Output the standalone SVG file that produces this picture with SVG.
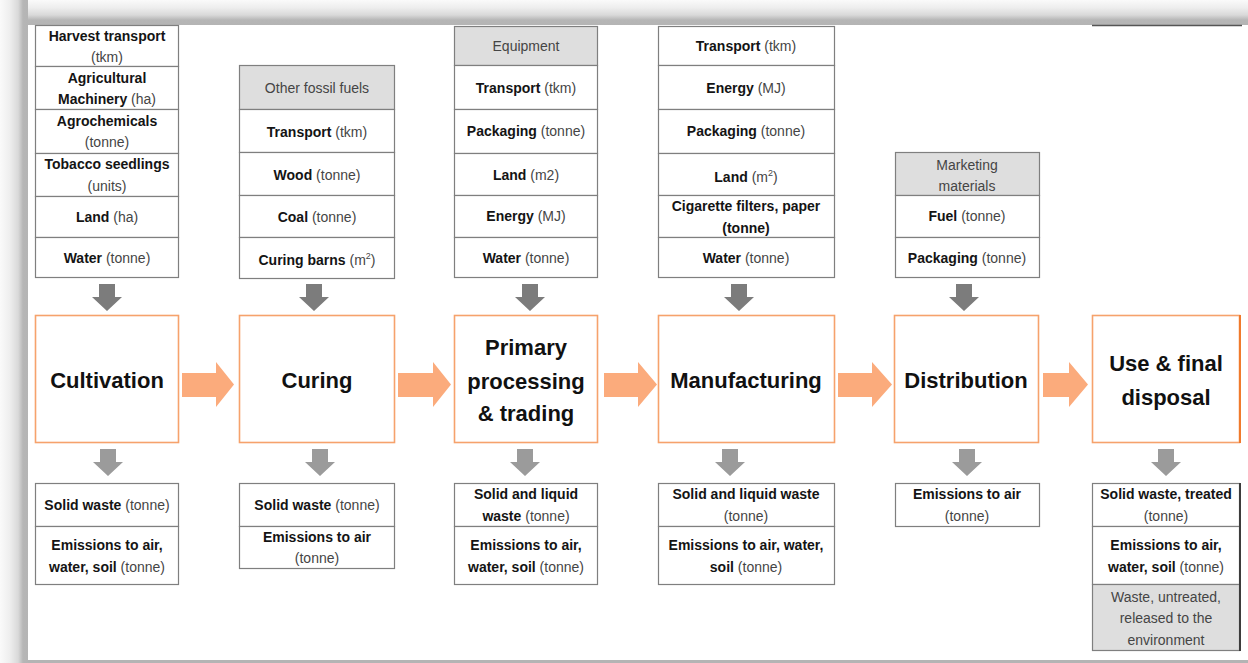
<svg xmlns="http://www.w3.org/2000/svg" width="1248" height="663" viewBox="0 0 1248 663">
<defs>
<linearGradient id="gTop" x1="0" y1="0" x2="0" y2="1">
<stop offset="0" stop-color="#fafafa"/><stop offset="0.3" stop-color="#eeeeee"/><stop offset="0.6" stop-color="#d9d9d9"/><stop offset="0.8" stop-color="#b6b6b6"/><stop offset="1" stop-color="#b4b4b4"/>
</linearGradient>
<linearGradient id="gLeft" x1="0" y1="0" x2="1" y2="0">
<stop offset="0" stop-color="#fafafa"/><stop offset="0.35" stop-color="#eeeeee"/><stop offset="0.65" stop-color="#d9d9d9"/><stop offset="0.82" stop-color="#b6b6b6"/><stop offset="1" stop-color="#b4b4b4"/>
</linearGradient>
<style>
.cell{fill:#ffffff;stroke:#7f7f7f;stroke-width:1.2}
.hdr{fill:#dedede;stroke:#7f7f7f;stroke-width:1.2}
.proc{fill:#ffffff;stroke:#f6a26c;stroke-width:1.6}
.t{font-family:"Liberation Sans",Arial,sans-serif;font-size:14px;text-anchor:middle;fill:#454545}
.b{font-weight:bold;fill:#141414}
.p{font-family:"Liberation Sans",Arial,sans-serif;font-size:22px;font-weight:bold;text-anchor:middle;fill:#111111}
.oa{fill:#fbab7c}
.ga{fill:#7c7c7c}
.gb{fill:#9b9b9b}
</style>
</defs>
<rect width="1248" height="663" fill="#ffffff"/>
<rect x="0" y="0" width="1248" height="25" fill="url(#gTop)"/>
<rect x="0" y="0" width="28" height="663" fill="url(#gLeft)"/>
<rect x="28" y="25" width="1220" height="635" fill="#ffffff"/>
<rect x="28" y="660" width="1220" height="3" fill="#b4b4b4"/>
<line x1="1092" y1="25.5" x2="1242" y2="25.5" stroke="#555555" stroke-width="1.5"/>

<!-- Input tables -->
<g id="in-cultivation">
<rect class="cell" x="35.5" y="25.5" width="143" height="41"/>
<rect class="cell" x="35.5" y="66.5" width="143" height="43"/>
<rect class="cell" x="35.5" y="109.5" width="143" height="44"/>
<rect class="cell" x="35.5" y="153.5" width="143" height="43"/>
<rect class="cell" x="35.5" y="196.5" width="143" height="41"/>
<rect class="cell" x="35.5" y="237.5" width="143" height="40"/>
<text class="t" x="107" y="41"><tspan class="b">Harvest transport</tspan></text>
<text class="t" x="107" y="62">(tkm)</text>
<text class="t" x="107" y="83"><tspan class="b">Agricultural</tspan></text>
<text class="t" x="107" y="104"><tspan class="b">Machinery</tspan> (ha)</text>
<text class="t" x="107" y="126"><tspan class="b">Agrochemicals</tspan></text>
<text class="t" x="107" y="147">(tonne)</text>
<text class="t" x="107" y="169"><tspan class="b">Tobacco seedlings</tspan></text>
<text class="t" x="107" y="191">(units)</text>
<text class="t" x="107" y="222"><tspan class="b">Land</tspan> (ha)</text>
<text class="t" x="107" y="263"><tspan class="b">Water</tspan> (tonne)</text>
</g>

<g id="in-curing">
<rect class="hdr" x="239.5" y="65.5" width="155" height="44"/>
<rect class="cell" x="239.5" y="109.5" width="155" height="43"/>
<rect class="cell" x="239.5" y="152.5" width="155" height="43"/>
<rect class="cell" x="239.5" y="195.5" width="155" height="42"/>
<rect class="cell" x="239.5" y="237.5" width="155" height="41"/>
<text class="t" x="317" y="93">Other fossil fuels</text>
<text class="t" x="317" y="137"><tspan class="b">Transport</tspan> (tkm)</text>
<text class="t" x="317" y="180"><tspan class="b">Wood</tspan> (tonne)</text>
<text class="t" x="317" y="222"><tspan class="b">Coal</tspan> (tonne)</text>
<text class="t" x="317" y="265"><tspan class="b">Curing barns</tspan> (m<tspan font-size="9" dy="-6">2</tspan><tspan dy="6">)</tspan></text>
</g>

<g id="in-primary">
<rect class="hdr" x="454.5" y="26.5" width="143" height="39"/>
<rect class="cell" x="454.5" y="65.5" width="143" height="44"/>
<rect class="cell" x="454.5" y="109.5" width="143" height="44"/>
<rect class="cell" x="454.5" y="153.5" width="143" height="42"/>
<rect class="cell" x="454.5" y="195.5" width="143" height="42"/>
<rect class="cell" x="454.5" y="237.5" width="143" height="40"/>
<text class="t" x="526" y="51">Equipment</text>
<text class="t" x="526" y="93"><tspan class="b">Transport</tspan> (tkm)</text>
<text class="t" x="526" y="136"><tspan class="b">Packaging</tspan> (tonne)</text>
<text class="t" x="526" y="180"><tspan class="b">Land</tspan> (m2)</text>
<text class="t" x="526" y="221"><tspan class="b">Energy</tspan> (MJ)</text>
<text class="t" x="526" y="263"><tspan class="b">Water</tspan> (tonne)</text>
</g>

<g id="in-manufacturing">
<rect class="cell" x="658.5" y="26.5" width="176" height="39"/>
<rect class="cell" x="658.5" y="65.5" width="176" height="44"/>
<rect class="cell" x="658.5" y="109.5" width="176" height="44"/>
<rect class="cell" x="658.5" y="153.5" width="176" height="42"/>
<rect class="cell" x="658.5" y="195.5" width="176" height="42"/>
<rect class="cell" x="658.5" y="237.5" width="176" height="40"/>
<text class="t" x="746" y="51"><tspan class="b">Transport</tspan> (tkm)</text>
<text class="t" x="746" y="93"><tspan class="b">Energy</tspan> (MJ)</text>
<text class="t" x="746" y="136"><tspan class="b">Packaging</tspan> (tonne)</text>
<text class="t" x="746" y="182"><tspan class="b">Land</tspan> (m<tspan font-size="9" dy="-6">2</tspan><tspan dy="6">)</tspan></text>
<text class="t" x="746" y="211"><tspan class="b">Cigarette filters, paper</tspan></text>
<text class="t" x="746" y="233"><tspan class="b">(tonne)</tspan></text>
<text class="t" x="746" y="263"><tspan class="b">Water</tspan> (tonne)</text>
</g>

<g id="in-distribution">
<rect class="hdr" x="895.5" y="152.5" width="144" height="43"/>
<rect class="cell" x="895.5" y="195.5" width="144" height="42"/>
<rect class="cell" x="895.5" y="237.5" width="144" height="40"/>
<text class="t" x="967" y="170">Marketing</text>
<text class="t" x="967" y="191">materials</text>
<text class="t" x="967" y="221"><tspan class="b">Fuel</tspan> (tonne)</text>
<text class="t" x="967" y="263"><tspan class="b">Packaging</tspan> (tonne)</text>
</g>

<!-- Process nodes -->
<g id="cultivation">
<rect class="proc" x="35.5" y="315.5" width="143" height="127"/>
<text class="p" x="107" y="388">Cultivation</text>
</g>
<g id="curing">
<rect class="proc" x="239.5" y="315.5" width="155" height="127"/>
<text class="p" x="317" y="388">Curing</text>
</g>
<g id="primary">
<rect class="proc" x="454.5" y="315.5" width="143" height="127"/>
<text class="p" x="526" y="355">Primary</text>
<text class="p" x="526" y="389">processing</text>
<text class="p" x="526" y="421">&amp; trading</text>
</g>
<g id="manufacturing">
<rect class="proc" x="658.5" y="315.5" width="176" height="127"/>
<text class="p" x="746" y="388">Manufacturing</text>
</g>
<g id="distribution">
<rect class="proc" x="894.5" y="315.5" width="144" height="127"/>
<text class="p" x="966" y="388">Distribution</text>
</g>
<g id="use">
<rect class="proc" x="1092.5" y="315.5" width="147" height="127"/>
<line x1="1240" y1="315" x2="1240" y2="443" stroke="#f07a2c" stroke-width="2"/>
<text class="p" x="1166" y="371">Use &amp; final</text>
<text class="p" x="1166" y="405">disposal</text>
</g>

<!-- Output tables -->
<g id="out-cultivation">
<rect class="cell" x="35.5" y="483.5" width="143" height="43"/>
<rect class="cell" x="35.5" y="526.5" width="143" height="58"/>
<text class="t" x="107" y="510"><tspan class="b">Solid waste</tspan> (tonne)</text>
<text class="t" x="107" y="550"><tspan class="b">Emissions to air,</tspan></text>
<text class="t" x="107" y="572"><tspan class="b">water, soil</tspan> (tonne)</text>
</g>
<g id="out-curing">
<rect class="cell" x="239.5" y="483.5" width="155" height="43"/>
<rect class="cell" x="239.5" y="526.5" width="155" height="42"/>
<text class="t" x="317" y="510"><tspan class="b">Solid waste</tspan> (tonne)</text>
<text class="t" x="317" y="542"><tspan class="b">Emissions to air</tspan></text>
<text class="t" x="317" y="563">(tonne)</text>
</g>
<g id="out-primary">
<rect class="cell" x="454.5" y="483.5" width="143" height="43"/>
<rect class="cell" x="454.5" y="526.5" width="143" height="58"/>
<text class="t" x="526" y="499"><tspan class="b">Solid and liquid</tspan></text>
<text class="t" x="526" y="521"><tspan class="b">waste</tspan> (tonne)</text>
<text class="t" x="526" y="550"><tspan class="b">Emissions to air,</tspan></text>
<text class="t" x="526" y="572"><tspan class="b">water, soil</tspan> (tonne)</text>
</g>
<g id="out-manufacturing">
<rect class="cell" x="658.5" y="483.5" width="176" height="43"/>
<rect class="cell" x="658.5" y="526.5" width="176" height="58"/>
<text class="t" x="746" y="499"><tspan class="b">Solid and liquid waste</tspan></text>
<text class="t" x="746" y="521">(tonne)</text>
<text class="t" x="746" y="550"><tspan class="b">Emissions to air, water,</tspan></text>
<text class="t" x="746" y="572"><tspan class="b">soil</tspan> (tonne)</text>
</g>
<g id="out-distribution">
<rect class="cell" x="895.5" y="483.5" width="144" height="43"/>
<text class="t" x="967" y="499"><tspan class="b">Emissions to air</tspan></text>
<text class="t" x="967" y="521">(tonne)</text>
</g>
<g id="out-use">
<rect class="cell" x="1092.5" y="483.5" width="147" height="43"/>
<rect class="cell" x="1092.5" y="526.5" width="147" height="58"/>
<rect class="hdr" x="1092.5" y="584.5" width="147" height="66"/>
<line x1="1240" y1="483" x2="1240" y2="651" stroke="#3c3c3c" stroke-width="2"/>
<text class="t" x="1166" y="499"><tspan class="b">Solid waste, treated</tspan></text>
<text class="t" x="1166" y="521">(tonne)</text>
<text class="t" x="1166" y="550"><tspan class="b">Emissions to air,</tspan></text>
<text class="t" x="1166" y="572"><tspan class="b">water, soil</tspan> (tonne)</text>
<text class="t" x="1166" y="602">Waste, untreated,</text>
<text class="t" x="1166" y="623">released to the</text>
<text class="t" x="1166" y="645">environment</text>
</g>

<!-- Connectors -->
<g id="connectors">
<path class="oa" d="M182,373 H216 V362 L234,384.5 L216,407 V397 H182 Z"/>
<path class="oa" d="M398,373 H433 V362 L451,384.5 L433,407 V397 H398 Z"/>
<path class="oa" d="M604,373 H638 V362 L657,384.5 L638,407 V397 H604 Z"/>
<path class="oa" d="M838,373 H872 V362 L892,384.5 L872,407 V397 H838 Z"/>
<path class="oa" d="M1043,373 H1069 V362 L1088,384.5 L1069,407 V397 H1043 Z"/>
<path class="ga" d="M99,284 H115 V297 H122 L107,311 L92,297 H99 Z"/>
<path class="ga" d="M306,284 H322 V297 H329 L314,311 L299,297 H306 Z"/>
<path class="ga" d="M522,284 H538 V297 H545 L530,311 L515,297 H522 Z"/>
<path class="ga" d="M731,284 H747 V297 H754 L739,311 L724,297 H731 Z"/>
<path class="ga" d="M956,284 H972 V297 H979 L964,311 L949,297 H956 Z"/>
<path class="gb" d="M100,449 H116 V462 H123 L108,476 L93,462 H100 Z"/>
<path class="gb" d="M312,449 H328 V462 H335 L320,476 L305,462 H312 Z"/>
<path class="gb" d="M517,449 H533 V462 H540 L525,476 L510,462 H517 Z"/>
<path class="gb" d="M722,449 H738 V462 H745 L730,476 L715,462 H722 Z"/>
<path class="gb" d="M959,449 H975 V462 H982 L967,476 L952,462 H959 Z"/>
<path class="gb" d="M1158,449 H1174 V462 H1181 L1166,476 L1151,462 H1158 Z"/>
</g>
</svg>
